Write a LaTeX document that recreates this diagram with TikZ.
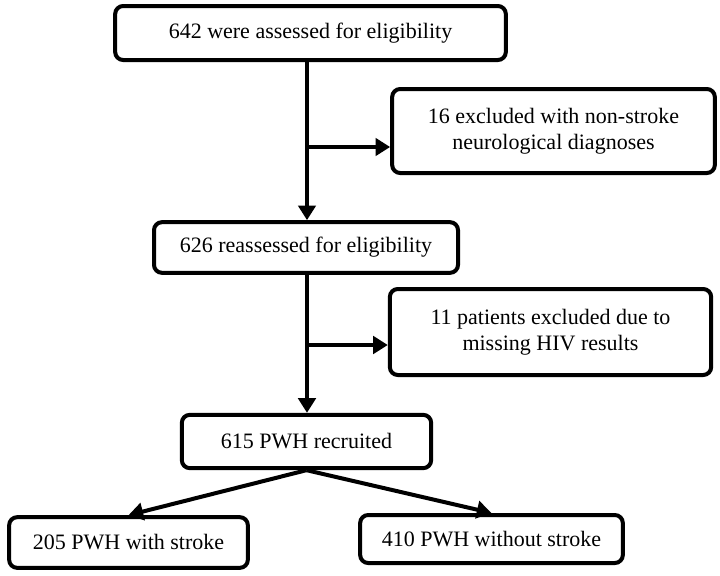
\documentclass[tikz,border=0pt]{standalone}
\usepackage{fontspec}
\setmainfont{Liberation Serif}
\usepackage{tikz}
\usetikzlibrary{arrows.meta}
\tikzset{
  box/.style={draw=black, line width=3pt, rounded corners=6pt, fill=white,
    align=center, inner sep=2pt, font=\fontsize{16.5}{19.5}\selectfont},
  arr/.style={draw=black, line width=3pt, -{Triangle[length=11pt,width=13pt]}},
  plain/.style={draw=black, line width=3pt},
}

\begin{document}
\begin{tikzpicture}[x=0.75pt, y=-0.75pt]
\useasboundingbox (0,0) rectangle (720,575);

% main column
\node[box, minimum width=293pt, minimum height=40.5pt] (assess) at (310.5,33) {642 were assessed for eligibility};
\node[box, minimum width=228pt, minimum height=38pt] (reassess) at (306,247.5) {626 reassessed for eligibility};
\node[box, minimum width=187pt, minimum height=40pt] (recruit) at (306.5,441.5) {615 PWH recruited};

% exclusions
\node[box, minimum width=242pt, minimum height=63pt] (excl1) at (553.5,131) {16 excluded with non-stroke\\neurological diagnoses};
\node[box, minimum width=241pt, minimum height=64.5pt] (excl2) at (550.5,332) {11 patients excluded due to\\missing HIV results};

% groups
\node[box, minimum width=179pt, minimum height=38pt] (stroke) at (128.5,542.5) {205 PWH with stroke};
\node[box, minimum width=197pt, minimum height=36pt] (nostroke) at (491.5,539) {410 PWH without stroke};

\coordinate (fork1) at (307,147);
\coordinate (fork2) at (307,345);

\draw[arr] (assess.south -| fork1) -- (reassess.north -| fork1);
\draw[arr] (fork1) -- (fork1 -| excl1.west);
\draw[arr] (reassess.south -| fork2) -- (recruit.north -| fork2);
\draw[arr] (fork2) -- (fork2 -| excl2.west);
\draw[arr] (recruit.south) -- (stroke.north);
\draw[arr] (recruit.south) -- (nostroke.north);
\end{tikzpicture}
\end{document}
